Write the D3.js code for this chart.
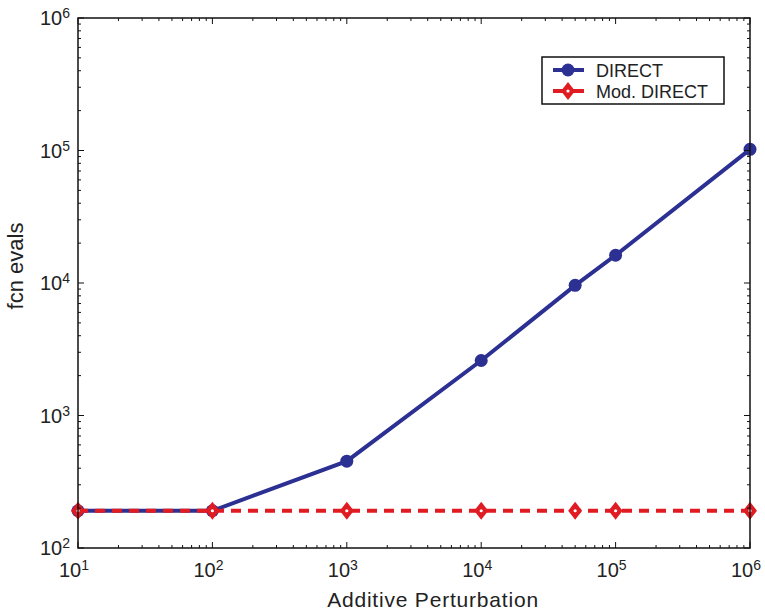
<!DOCTYPE html>
<html>
<head>
<meta charset="utf-8">
<script src="https://cdn.jsdelivr.net/npm/d3@7"></script>
<style>
  body { margin: 0; background: #fff; }
  text { font-family: "Liberation Sans", Arial, sans-serif; fill: #222; }
</style>
</head>
<body>
<div id="chart"></div>
<script>
// data
var perturbation = [10, 100, 1000, 10000, 50000, 100000, 1000000]
var directEvals = [191, 191, 452, 2600, 9600, 16200, 102000]
var modDirectEvals = [191, 191, 191, 191, 191, 191, 191]
var xTickExp = [1, 2, 3, 4, 5, 6]
var yTickExp = [2, 3, 4, 5, 6]

var W = 765, H = 615
var margin = {left: 78, right: 15, top: 18, bottom: 67}
var width = W - margin.left - margin.right
var height = H - margin.top - margin.bottom

var blue = '#2b3092', red = '#e01b22'

var svg = d3.select('#chart').append('svg').attr('width', W).attr('height', H)
var g = svg.append('g').attr('transform', 'translate(' + margin.left + ',' + margin.top + ')')

var x = d3.scaleLog().domain([10, 1e6]).range([0, width])
var y = d3.scaleLog().domain([100, 1e6]).range([height, 0])

// minor ticks for the log axes
function minors(scale) {
  var d = scale.domain(), out = []
  for (var e = Math.log10(d[0]); e < Math.log10(d[1]); e++)
    for (var k = 2; k <= 9; k++) out.push(k * Math.pow(10, e))
  return out
}

var line = d3.line().x(function(d) { return x(d[0]) }).y(function(d) { return y(d[1]) })
var directPts = d3.zip(perturbation, directEvals)
var modPts = d3.zip(perturbation, modDirectEvals)

// DIRECT
g.append('path').attr('d', line(directPts)).attr('fill', 'none')
  .attr('stroke', blue).attr('stroke-width', 4)
g.selectAll('circle.direct').data(directPts).enter().append('circle')
  .attr('class', 'direct').attr('cx', function(d) { return x(d[0]) }).attr('cy', function(d) { return y(d[1]) })
  .attr('r', 6.5).attr('fill', blue)

// Mod. DIRECT
g.append('path').attr('d', line(modPts)).attr('fill', 'none')
  .attr('stroke', red).attr('stroke-width', 4).attr('stroke-dasharray', '10,7')
function diamond(sel, cx, cy) {
  sel.append('path').attr('d', 'M' + cx + ',' + (cy - 9) + 'L' + (cx + 7) + ',' + cy + 'L' + cx + ',' + (cy + 9) + 'L' + (cx - 7) + ',' + cy + 'Z')
    .attr('fill', red)
  sel.append('circle').attr('cx', cx).attr('cy', cy).attr('r', 1.6).attr('fill', '#fff')
}
modPts.forEach(function(d) { diamond(g, x(d[0]), y(d[1])) })

// tick marks on all four sides, pointing inward
var ticks = g.append('g').attr('stroke', '#111').attr('stroke-width', 1)
xTickExp.forEach(function(e) {
  var px = x(Math.pow(10, e))
  ticks.append('line').attr('x1', px).attr('x2', px).attr('y1', height).attr('y2', height - 6)
  ticks.append('line').attr('x1', px).attr('x2', px).attr('y1', 0).attr('y2', 6)
})
minors(x).forEach(function(v) {
  var px = x(v)
  ticks.append('line').attr('x1', px).attr('x2', px).attr('y1', height).attr('y2', height - 3)
  ticks.append('line').attr('x1', px).attr('x2', px).attr('y1', 0).attr('y2', 3)
})
yTickExp.forEach(function(e) {
  var py = y(Math.pow(10, e))
  ticks.append('line').attr('x1', 0).attr('x2', 6).attr('y1', py).attr('y2', py)
  ticks.append('line').attr('x1', width).attr('x2', width - 6).attr('y1', py).attr('y2', py)
})
minors(y).forEach(function(v) {
  var py = y(v)
  ticks.append('line').attr('x1', 0).attr('x2', 3).attr('y1', py).attr('y2', py)
  ticks.append('line').attr('x1', width).attr('x2', width - 3).attr('y1', py).attr('y2', py)
})

g.append('rect').attr('width', width).attr('height', height)
  .attr('fill', 'none').attr('stroke', '#111').attr('stroke-width', 1.5)

// tick labels with superscript exponents
function powLabel(sel, e) {
  sel.append('tspan').text('10')
  sel.append('tspan').attr('dy', -7).attr('font-size', 14).text(e)
}
xTickExp.forEach(function(e) {
  var t = g.append('text').attr('x', x(Math.pow(10, e)) - 19).attr('y', height + 29)
    .attr('font-size', 20)
  powLabel(t, e)
})
yTickExp.forEach(function(e) {
  var t = g.append('text').attr('x', -8).attr('y', y(Math.pow(10, e)) + 7)
    .attr('text-anchor', 'end').attr('font-size', 20)
  powLabel(t, e)
})

// axis titles
svg.append('text').attr('x', 433).attr('y', 607)
  .attr('text-anchor', 'middle').attr('font-size', 21).attr('letter-spacing', 0.8)
  .text('Additive Perturbation')
svg.append('text').attr('transform', 'translate(23,266) rotate(-90)')
  .attr('text-anchor', 'middle').attr('font-size', 22).text('fcn evals')

// legend
var lg = svg.append('g')
lg.append('rect').attr('x', 542).attr('y', 57).attr('width', 182).attr('height', 47)
  .attr('fill', '#fff').attr('stroke', '#111').attr('stroke-width', 1.5)
lg.append('line').attr('x1', 553).attr('x2', 584).attr('y1', 70).attr('y2', 70)
  .attr('stroke', blue).attr('stroke-width', 4)
lg.append('circle').attr('cx', 568).attr('cy', 70).attr('r', 6.5).attr('fill', blue)
lg.append('text').attr('x', 596).attr('y', 77).attr('font-size', 18).text('DIRECT')
lg.append('line').attr('x1', 553).attr('x2', 584).attr('y1', 91).attr('y2', 91)
  .attr('stroke', red).attr('stroke-width', 4)
diamond(lg, 568, 91)
lg.append('text').attr('x', 596).attr('y', 98).attr('font-size', 18).text('Mod. DIRECT')
</script>
</body>
</html>
